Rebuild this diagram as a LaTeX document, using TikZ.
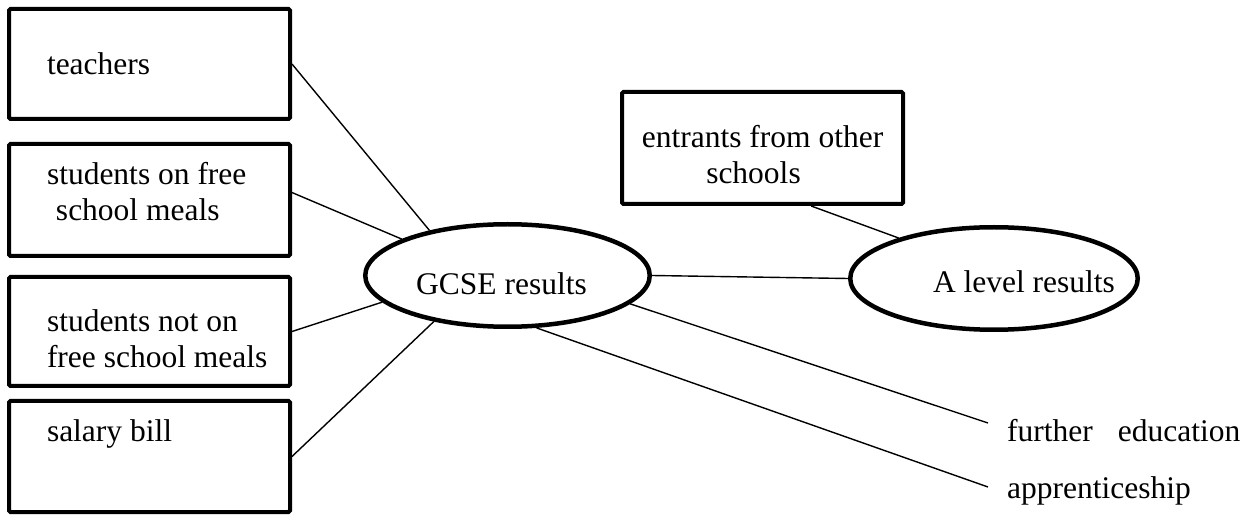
\documentclass[tikz,border=0pt]{standalone}
\usepackage{fontspec}
\setmainfont{Liberation Serif}
\usetikzlibrary{shapes.geometric}
\newcommand{\bxtxt}[1]{\makebox[205pt][l]{\begin{tabular}[t]{@{}l@{}}#1\end{tabular}}}
\begin{document}
\begin{tikzpicture}[x=1pt,y=-1pt,
  txt/.style={font=\fontsize{31.5}{36}\selectfont},
  box/.style={draw, line width=4pt, rounded corners=1.5pt, rectangle, inner sep=0pt, minimum width=281pt, txt},
  oval/.style={draw, ellipse, line width=4.5pt, inner sep=0pt, txt},
  link/.style={line width=1.4pt},
  lbl/.style={inner sep=0pt, anchor=base west, txt}]
\useasboundingbox (0,0) rectangle (1254,529);
\node[box, minimum height=110pt, text height=22pt, text depth=0pt] (b1) at (149.5,64) {\bxtxt{teachers}};
\node[box, minimum height=112pt, text height=22pt, text depth=52pt] (b2) at (149.5,200) {\bxtxt{students on free\\\hspace*{9pt}school meals}};
\node[box, minimum height=109pt, text height=22pt, text depth=21pt] (b3) at (149.5,331.5) {\bxtxt{students not on\\free school meals}};
\node[box, minimum height=111pt, text height=22pt, text depth=51pt] (b4) at (149.5,456.5) {\bxtxt{salary bill}};
\node[box, minimum width=281pt, minimum height=112pt, text height=22pt, text depth=22pt] (ent) at (762.5,148) {\begin{tabular}[t]{@{}c@{}}entrants from other\\schools\hspace*{18pt}\end{tabular}};
\node[oval, minimum width=284.5pt, minimum height=102.5pt, text height=41pt, text depth=2pt] (gcse) at (507.5,275.5) {\hspace*{-6pt}GCSE results\hspace*{6pt}};
\node[oval, minimum width=287.5pt, minimum height=102.5pt, text height=31pt, text depth=2pt] (alev) at (994,278.5) {\hspace*{30pt}A level results\hspace*{-30pt}};
\node[lbl] (fe) at (1007,442) {further\hspace*{25pt}education};
\node[lbl] (ap) at (1007,498) {apprenticeship};
\coordinate (feend) at (988,423);
\coordinate (apend) at (988,487);
\draw[link] (b1.east) -- (gcse.150);
\draw[link] (b2.3) -- (gcse.161);
\draw[link] (b3.east) -- (gcse.192);
\draw[link] (b4.east) -- (gcse.212);
\draw[link] (gcse.347) -- (feend);
\draw[link] (gcse.299) -- (apend);
\draw[link] (gcse.east) -- (alev.west);
\draw[link] (ent.310) -- (alev.157);
\end{tikzpicture}
\end{document}
